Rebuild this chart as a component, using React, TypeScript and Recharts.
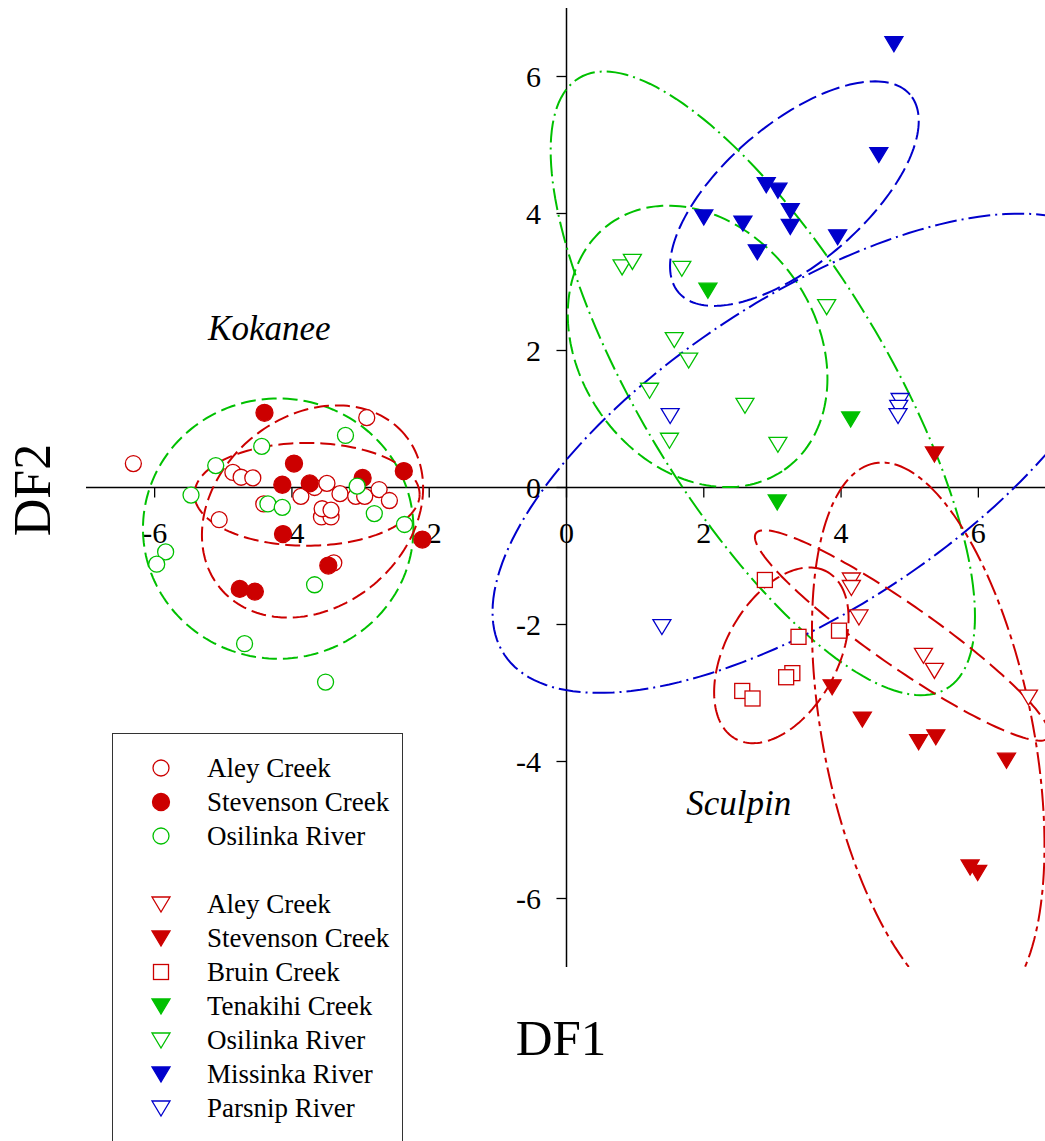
import React from 'react';
import { ScatterChart, Scatter, XAxis, YAxis, ReferenceLine, ReferenceDot } from 'recharts';

const RED = '#cc0000';
const GREEN = '#00c000';
const BLUE = '#0000cc';
const FONT = '"Liberation Serif", "Times New Roman", serif';

// Kokanee samples (DF1, DF2)
const kokaneeAley: [number, number][] = [
  [-6.31, 0.35], [-4.86, 0.22], [-4.74, 0.15], [-4.57, 0.14], [-2.91, 1.02], [-4.41, -0.24],
  [-5.06, -0.47], [-3.87, -0.13], [-3.67, 0.0], [-3.49, 0.06], [-3.3, -0.09], [-3.07, -0.13],
  [-2.94, -0.13], [-2.73, -0.03], [-2.58, -0.19], [-3.57, -0.43], [-3.43, -0.43], [-3.56, -0.31],
  [-3.43, -0.33], [-3.39, -1.1],
];
const kokaneeStevenson: [number, number][] = [
  [-4.4, 1.09], [-3.97, 0.35], [-4.14, 0.04], [-3.74, 0.06], [-2.97, 0.14], [-2.37, 0.24],
  [-2.1, -0.76], [-4.13, -0.68], [-3.47, -1.14], [-4.76, -1.48], [-4.54, -1.52],
];
const kokaneeOsilinka: [number, number][] = [
  [-5.11, 0.32], [-4.44, 0.6], [-3.22, 0.76], [-5.47, -0.11], [-4.35, -0.24], [-4.14, -0.29],
  [-2.8, -0.38], [-2.36, -0.54], [-5.84, -0.94], [-5.97, -1.12], [-3.67, -1.42], [-4.69, -2.28],
  [-3.51, -2.84], [-3.05, 0.02],
];

// Sculpin samples
const sculpinAley: [number, number][] = [
  [4.15, -1.35], [4.15, -1.46], [4.26, -1.89], [5.2, -2.45], [5.36, -2.67], [6.73, -3.06],
];
const sculpinStevenson: [number, number][] = [
  [5.36, 0.49], [3.87, -2.91], [4.31, -3.38], [5.13, -3.71], [5.38, -3.64], [6.41, -3.98],
  [5.88, -5.54], [5.99, -5.62],
];
const sculpinBruin: [number, number][] = [
  [2.89, -1.35], [3.38, -2.18], [3.97, -2.09], [3.29, -2.71], [3.2, -2.77], [2.56, -2.97], [2.71, -3.08],
];
const sculpinTenakihi: [number, number][] = [[2.06, 2.88], [4.14, 1.0], [3.07, -0.21]];
const sculpinOsilinka: [number, number][] = [
  [0.81, 3.22], [0.96, 3.3], [1.68, 3.2], [3.79, 2.64], [1.57, 2.16], [1.78, 1.86], [1.21, 1.42],
  [2.6, 1.2], [1.5, 0.69], [3.08, 0.63],
];
const sculpinMissinka: [number, number][] = [
  [4.77, 6.48], [4.55, 4.86], [2.91, 4.42], [3.08, 4.34], [3.26, 4.04], [3.26, 3.81], [2.0, 3.95],
  [2.57, 3.86], [3.95, 3.66], [2.78, 3.44],
];
const sculpinParsnip: [number, number][] = [
  [1.51, 1.05], [4.86, 1.27], [4.84, 1.17], [4.83, 1.05], [1.39, -2.03],
];

const xTicks = [-6, -4, -2, 0, 2, 4, 6];
const yTicks = [-6, -4, -2, 0, 2, 4, 6];

type Marker = 'circle' | 'triangle' | 'square';
interface Group { key: string; label: string; data: [number, number][]; color: string; marker: Marker; filled: boolean }

const kokaneeGroups: Group[] = [
  { key: 'kAley', label: 'Aley Creek', data: kokaneeAley, color: RED, marker: 'circle', filled: false },
  { key: 'kStev', label: 'Stevenson Creek', data: kokaneeStevenson, color: RED, marker: 'circle', filled: true },
  { key: 'kOsil', label: 'Osilinka River', data: kokaneeOsilinka, color: GREEN, marker: 'circle', filled: false },
];
const sculpinGroups: Group[] = [
  { key: 'sAley', label: 'Aley Creek', data: sculpinAley, color: RED, marker: 'triangle', filled: false },
  { key: 'sStev', label: 'Stevenson Creek', data: sculpinStevenson, color: RED, marker: 'triangle', filled: true },
  { key: 'sBruin', label: 'Bruin Creek', data: sculpinBruin, color: RED, marker: 'square', filled: false },
  { key: 'sTena', label: 'Tenakihi Creek', data: sculpinTenakihi, color: GREEN, marker: 'triangle', filled: true },
  { key: 'sOsil', label: 'Osilinka River', data: sculpinOsilinka, color: GREEN, marker: 'triangle', filled: false },
  { key: 'sMiss', label: 'Missinka River', data: sculpinMissinka, color: BLUE, marker: 'triangle', filled: true },
  { key: 'sPars', label: 'Parsnip River', data: sculpinParsnip, color: BLUE, marker: 'triangle', filled: false },
];

// confidence ellipses: centre, semi-axes, rotation (deg)
const ellipses = [
  { key: 'eKOsil', color: GREEN, cx: -4.2, cy: -0.6, a: 1.97, b: 1.9, angle: 0, dash: '15 6' },
  { key: 'eKAley', color: RED, cx: -3.78, cy: -0.1, a: 1.64, b: 0.75, angle: 0, dash: '15 6' },
  { key: 'eKStev', color: RED, cx: -3.7, cy: -0.35, a: 1.75, b: 1.39, angle: 40, dash: '15 6' },
  { key: 'eSOsil', color: GREEN, cx: 1.91, cy: 2.06, a: 2.2, b: 1.72, angle: -55, dash: '17 6' },
  { key: 'eSTena', color: GREEN, cx: 2.86, cy: 1.52, a: 5.2, b: 1.8, angle: -59, dash: '22 5 2 5' },
  { key: 'eSMiss', color: BLUE, cx: 3.32, cy: 4.29, a: 2.22, b: 1.02, angle: 40.6, dash: '19 6' },
  { key: 'eSPars', color: BLUE, cx: 3.54, cy: 0.5, a: 5.33, b: 2.27, angle: 33.5, dash: '22 5 2 5' },
  { key: 'eSBruin', color: RED, cx: 3.13, cy: -2.45, a: 1.39, b: 0.82, angle: 61.5, dash: '19 6' },
  { key: 'eSAley', color: RED, cx: 4.89, cy: -2.16, a: 2.6, b: 0.45, angle: -35, dash: '19 7' },
  { key: 'eSStev', color: RED, cx: 5.27, cy: -3.64, a: 4.07, b: 1.53, angle: -78.9, dash: '22 5 5 5' },
];

const ellipsePoints = (e: typeof ellipses[number]) => {
  const th = (e.angle * Math.PI) / 180;
  const pts: { x: number; y: number }[] = [];
  for (let i = 0; i <= 180; i++) {
    const t = (i / 180) * Math.PI * 2;
    const ex = e.a * Math.cos(t);
    const ey = e.b * Math.sin(t);
    pts.push({ x: e.cx + ex * Math.cos(th) - ey * Math.sin(th), y: e.cy + ex * Math.sin(th) + ey * Math.cos(th) });
  }
  return pts;
};

const drawMarker = (marker: Marker, filled: boolean, color: string, cx: number, cy: number) => {
  const fill = filled ? color : '#fff';
  const sw = 1.3;
  if (marker === 'circle') {
    return <circle cx={cx} cy={cy} r={filled ? 8.5 : 8} fill={fill} stroke={color} strokeWidth={sw} />;
  }
  if (marker === 'square') {
    return <rect x={cx - 7.5} y={cy - 7.5} width={15} height={15} fill={fill} stroke={color} strokeWidth={sw} />;
  }
  return (
    <polygon
      points={`${cx - 9},${cy - 7} ${cx + 9},${cy - 7} ${cx},${cy + 8}`}
      fill={fill}
      stroke={color}
      strokeWidth={sw}
      strokeLinejoin="miter"
    />
  );
};

const toXY = (d: [number, number][]) => d.map(([x, y]) => ({ x, y }));

const LegendRow = ({ g }: { g: Group }) => (
  <div style={{ height: 34, display: 'flex', alignItems: 'center', position: 'relative' }}>
    <svg width={24} height={24} style={{ position: 'absolute', left: 36 }}>
      {drawMarker(g.marker, g.filled, g.color, 12, 12)}
    </svg>
    <span style={{ position: 'absolute', left: 94, fontSize: 27, lineHeight: '34px', color: '#000', whiteSpace: 'nowrap' }}>
      {g.label}
    </span>
  </div>
);

export default function App() {
  return (
    <div style={{ position: 'relative', width: 1045, height: 1141, overflow: 'hidden', background: '#fff', fontFamily: FONT }}>
      <style>{'body{margin:0;overflow:hidden;background:#fff}'}</style>
      <ScatterChart width={1047} height={1141} margin={{ top: 8, right: 0, bottom: 174, left: 86 }}>
        <XAxis type="number" dataKey="x" domain={[-7, 7]} hide allowDataOverflow />
        <YAxis type="number" dataKey="y" domain={[-7, 7]} hide allowDataOverflow />

        <ReferenceLine y={0} stroke="#000" strokeWidth={1.5} />
        <ReferenceLine x={0} stroke="#000" strokeWidth={1.5} />
        {xTicks.map((t) => (
          <ReferenceLine key={`xt${t}`} segment={[{ x: t, y: 0 }, { x: t, y: -0.146 }]} stroke="#000" strokeWidth={1.3} />
        ))}
        {yTicks.map((t) => (
          <ReferenceLine key={`yt${t}`} segment={[{ x: 0, y: t }, { x: -0.146, y: t }]} stroke="#000" strokeWidth={1.3} />
        ))}
        {xTicks.map((t) => (
          <ReferenceDot
            key={`xl${t}`}
            x={t}
            y={0}
            r={0}
            shape={(p: any) => (
              <text x={p.cx} y={p.cy + 55.5} textAnchor="middle" fontSize={30} fontFamily={FONT} fill="#000">
                {t}
              </text>
            )}
          />
        ))}
        {yTicks.map((t) => (
          <ReferenceDot
            key={`yl${t}`}
            x={0}
            y={t}
            r={0}
            shape={(p: any) => (
              <text x={p.cx - 25.5} y={p.cy + 10.5} textAnchor="end" fontSize={30} fontFamily={FONT} fill="#000">
                {t}
              </text>
            )}
          />
        ))}

        {ellipses.map((e) => (
          <Scatter
            key={e.key}
            data={ellipsePoints(e)}
            fill={e.color}
            line={{ stroke: e.color, strokeWidth: 2, strokeDasharray: e.dash }}
            shape={() => <g />}
            legendType="none"
            isAnimationActive={false}
          />
        ))}

        {[...kokaneeGroups, ...sculpinGroups].map((g) => (
          <Scatter
            key={g.key}
            name={g.label}
            data={toXY(g.data)}
            fill={g.color}
            shape={(p: any) => drawMarker(g.marker, g.filled, g.color, p.cx, p.cy)}
            isAnimationActive={false}
          />
        ))}

        <ReferenceDot
          x={-4.33}
          y={2.33}
          r={0}
          shape={(p: any) => (
            <text x={p.cx} y={p.cy + 12} textAnchor="middle" fontSize={35} fontStyle="italic" fontFamily={FONT} fill="#000">
              Kokanee
            </text>
          )}
        />
        <ReferenceDot
          x={2.51}
          y={-4.61}
          r={0}
          shape={(p: any) => (
            <text x={p.cx} y={p.cy + 12} textAnchor="middle" fontSize={35} fontStyle="italic" fontFamily={FONT} fill="#000">
              Sculpin
            </text>
          )}
        />
      </ScatterChart>

      <svg width={1045} height={1141} style={{ position: 'absolute', left: 0, top: 0, pointerEvents: 'none' }}>
        <text x={561} y={1055} textAnchor="middle" fontSize={51} fontFamily={FONT} fill="#000">DF1</text>
        <text x={50} y={490} textAnchor="middle" fontSize={52} fontFamily={FONT} fill="#000" transform="rotate(-90 50 490)">DF2</text>
      </svg>

      <div
        style={{
          position: 'absolute',
          left: 112,
          top: 733,
          width: 291,
          height: 430,
          border: '1.5px solid #333',
          background: '#fff',
          paddingTop: 17,
          boxSizing: 'border-box',
        }}
      >
        {kokaneeGroups.map((g) => <LegendRow key={g.key} g={g} />)}
        <div style={{ height: 34 }} />
        {sculpinGroups.map((g) => <LegendRow key={g.key} g={g} />)}
      </div>
    </div>
  );
}
